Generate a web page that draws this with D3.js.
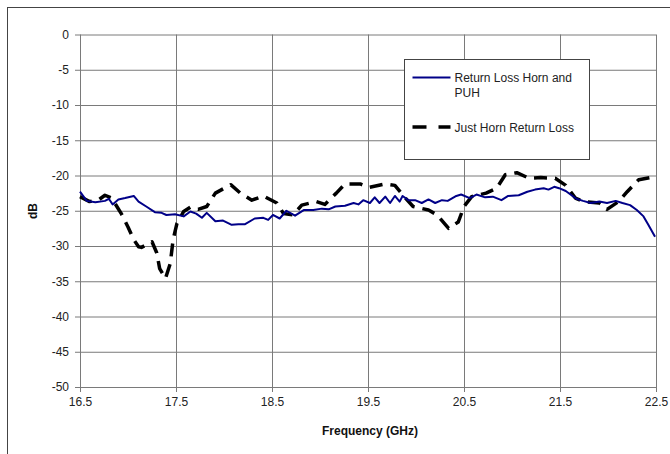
<!DOCTYPE html>
<html>
<head>
<meta charset="utf-8">
<script src="https://cdn.jsdelivr.net/npm/d3@7"></script>
<style>
  body { margin: 0; background: #fff; }
  svg { display: block; font-family: "Liberation Sans", Arial, sans-serif; }
  .grid line { stroke: #7a7a7a; stroke-width: 1; }
  .grid path { display: none; }
  .axis path, .axis line { stroke: #7a7a7a; }
  .axis text { fill: #222; font-size: 12px; }
</style>
</head>
<body>
<div id="chart"></div>
<script>
// tick values
var xTicks = [16.5, 17.5, 18.5, 19.5, 20.5, 21.5, 22.5]
var yTicks = [0, -5, -10, -15, -20, -25, -30, -35, -40, -45, -50]

// Return Loss Horn and PUH (solid blue)
var pubFreq = [16.50, 16.57, 16.66, 16.76, 16.80, 16.84, 16.90, 16.97, 17.06, 17.11,
  17.19, 17.28, 17.35, 17.40, 17.49, 17.58, 17.65, 17.71, 17.77, 17.82,
  17.91, 17.99, 18.08, 18.15, 18.22, 18.32, 18.41, 18.46, 18.51, 18.58,
  18.65, 18.74, 18.83, 18.93, 19.02, 19.09, 19.16, 19.26, 19.35, 19.40,
  19.45, 19.52, 19.57, 19.62, 19.68, 19.73, 19.78, 19.83, 19.86, 19.92,
  19.99, 20.06, 20.13, 20.20, 20.27, 20.33, 20.42, 20.47, 20.56, 20.63,
  20.72, 20.80, 20.89, 20.96, 21.07, 21.16, 21.24, 21.33, 21.38, 21.44,
  21.49, 21.56, 21.62, 21.67, 21.74, 21.82, 21.91, 21.99, 22.08, 22.15,
  22.23, 22.30, 22.37, 22.42, 22.49]
var pubDb = [-22.3, -23.6, -23.8, -23.6, -23.3, -24.1, -23.4, -23.2, -22.9, -23.7,
  -24.4, -25.2, -25.3, -25.6, -25.5, -25.8, -25.1, -25.4, -26.0, -25.3,
  -26.5, -26.4, -27.0, -26.9, -26.9, -26.1, -26.0, -26.3, -25.6, -26.1,
  -25.0, -25.7, -24.9, -24.9, -24.7, -24.8, -24.4, -24.3, -23.9, -24.1,
  -23.5, -23.9, -23.1, -23.9, -23.0, -23.9, -22.9, -23.7, -22.9, -23.5,
  -23.5, -23.9, -23.4, -23.9, -23.5, -23.6, -22.9, -22.7, -23.2, -22.7,
  -23.1, -23.0, -23.5, -22.9, -22.8, -22.3, -22.0, -21.8, -22.0, -21.6,
  -21.8, -22.2, -22.8, -23.3, -23.6, -23.9, -23.7, -23.9, -23.6, -23.9,
  -24.2, -24.9, -25.8, -27.0, -28.7]

// Just Horn Return Loss (black dashed)
var hornFreq = [16.50, 16.60, 16.70, 16.76, 16.83, 16.93, 17.00, 17.06, 17.11, 17.14,
  17.25, 17.30, 17.33, 17.39, 17.44, 17.47, 17.51, 17.58, 17.65, 17.73,
  17.82, 17.91, 18.07, 18.17, 18.29, 18.41, 18.55, 18.62, 18.72, 18.81,
  18.96, 19.05, 19.17, 19.26, 19.42, 19.51, 19.68, 19.78, 19.89, 19.97,
  20.13, 20.22, 20.34, 20.44, 20.50, 20.58, 20.73, 20.84, 20.93, 21.05,
  21.18, 21.30, 21.45, 21.56, 21.66, 21.75, 21.91, 21.99, 22.11, 22.20,
  22.32, 22.44, 22.50]
var hornDb = [-23.0, -23.7, -23.4, -22.8, -23.2, -25.4, -27.3, -29.1, -30.1, -30.2,
  -29.4, -31.0, -33.2, -34.6, -32.5, -29.1, -26.8, -25.1, -24.5, -24.8,
  -24.4, -22.5, -21.3, -22.5, -23.5, -22.9, -23.9, -25.4, -25.6, -24.2,
  -23.7, -24.1, -22.5, -21.2, -21.2, -21.7, -21.2, -21.4, -23.2, -24.4,
  -24.9, -25.6, -27.5, -26.6, -24.4, -23.0, -22.5, -21.8, -19.9, -19.6,
  -20.4, -20.3, -20.4, -21.4, -23.2, -23.7, -23.9, -24.8, -23.7, -22.3,
  -20.6, -20.3, -20.2]

var seriesNames = ["Return Loss Horn and PUH", "Just Horn Return Loss"]

var W = 670, H = 454
var plot = {left: 80, right: 656, top: 34.5, bottom: 387}

var xScale = d3.scaleLinear().domain([16.5, 22.5]).range([plot.left, plot.right])
var yScale = d3.scaleLinear().domain([0, -50]).range([plot.top, plot.bottom])

var svg = d3.select("#chart").append("svg")
    .attr("width", W)
    .attr("height", H)

// outer chart frame
svg.append("rect")
    .attr("x", 7.5).attr("y", 7.5)
    .attr("width", W + 20).attr("height", H + 20)
    .attr("fill", "#fff")
    .attr("stroke", "#444")
    .attr("stroke-width", 1)

// horizontal gridlines
svg.append("g")
    .attr("class", "grid")
    .attr("transform", "translate(" + plot.left + ",0)")
    .call(d3.axisLeft(yScale).tickValues(yTicks).tickSize(-(plot.right - plot.left)).tickFormat(""))

// vertical gridlines
svg.append("g")
    .attr("class", "grid")
    .attr("transform", "translate(0," + plot.top + ")")
    .call(d3.axisBottom(xScale).tickValues(xTicks).tickSize(plot.bottom - plot.top).tickFormat(""))

// y axis
var yAxis = svg.append("g")
    .attr("class", "axis")
    .attr("transform", "translate(" + plot.left + ",0)")
    .call(d3.axisLeft(yScale).tickValues(yTicks).tickSize(5).tickSizeOuter(0).tickPadding(6).tickFormat(d3.format("d")))
yAxis.selectAll("text").text(function(d) { return d === 0 ? "0" : String(d) })

// x axis
svg.append("g")
    .attr("class", "axis")
    .attr("transform", "translate(0," + plot.bottom + ")")
    .call(d3.axisBottom(xScale).tickValues(xTicks).tickSize(5).tickSizeOuter(0).tickPadding(5).tickFormat(d3.format(".1f")))

// axis titles
svg.append("text")
    .attr("transform", "translate(37," + 211 + ") rotate(-90)")
    .attr("text-anchor", "middle")
    .style("font-size", "12px")
    .style("font-weight", "bold")
    .attr("fill", "#111")
    .text("dB")

svg.append("text")
    .attr("x", 370)
    .attr("y", 435)
    .attr("text-anchor", "middle")
    .style("font-size", "12px")
    .style("font-weight", "bold")
    .attr("fill", "#111")
    .text("Frequency (GHz)")

var line = d3.line()
    .x(function(d) { return xScale(d[0]) })
    .y(function(d) { return yScale(d[1]) })

var pubData = d3.zip(pubFreq, pubDb)
var hornData = d3.zip(hornFreq, hornDb)

svg.append("path")
    .datum(hornData)
    .attr("d", line)
    .attr("fill", "none")
    .attr("stroke", "#000")
    .attr("stroke-width", 3.5)
    .attr("stroke-dasharray", "13,8")
    .attr("stroke-linejoin", "round")

svg.append("path")
    .datum(pubData)
    .attr("d", line)
    .attr("fill", "none")
    .attr("stroke", "#000088")
    .attr("stroke-width", 2)
    .attr("stroke-linejoin", "round")

// legend
var legend = svg.append("g").attr("transform", "translate(404.5,59.5)")
legend.append("rect")
    .attr("width", 185).attr("height", 100)
    .attr("fill", "#fff")
    .attr("stroke", "#444")

legend.append("line")
    .attr("x1", 8).attr("x2", 46).attr("y1", 18).attr("y2", 18)
    .attr("stroke", "#000088").attr("stroke-width", 2)
legend.append("text")
    .attr("x", 50).attr("y", 22)
    .style("font-size", "12px").attr("fill", "#222")
    .text("Return Loss Horn and")
legend.append("text")
    .attr("x", 50).attr("y", 37)
    .style("font-size", "12px").attr("fill", "#222")
    .text("PUH")

legend.append("line")
    .attr("x1", 8).attr("x2", 46).attr("y1", 67.5).attr("y2", 67.5)
    .attr("stroke", "#000").attr("stroke-width", 3.5)
    .attr("stroke-dasharray", "14,12")
legend.append("text")
    .attr("x", 50).attr("y", 72)
    .style("font-size", "12px").attr("fill", "#222")
    .text(seriesNames[1])
</script>
</body>
</html>
